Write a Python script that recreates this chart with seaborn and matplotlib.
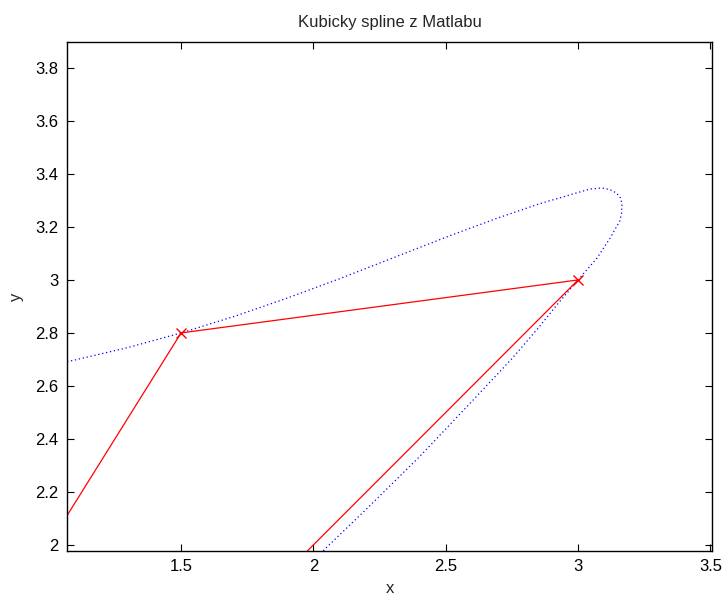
import matplotlib
matplotlib.use("Agg")
import matplotlib.pyplot as plt
import seaborn as sns
import pandas as pd

# Control polygon (red, with x markers)
poly_x = [1.0, 1.5, 3.0, 1.0]
poly_y = [2.0, 2.8, 3.0, 1.0]

# Cubic spline curve (blue dotted)
spl_x = [1.040, 1.069, 1.300, 1.500, 1.700, 1.900, 2.100, 2.300, 2.516, 2.700, 2.856,
         3.000, 3.045, 3.090, 3.120, 3.145, 3.160, 3.166, 3.164, 3.158, 3.121, 3.072,
         3.000, 2.930, 2.850, 2.750, 2.600, 2.400, 2.200, 2.044, 2.020]
spl_y = [2.684, 2.691, 2.745, 2.800, 2.862, 2.931, 3.005, 3.083, 3.167, 3.235, 3.288,
         3.330, 3.343, 3.347, 3.341, 3.328, 3.310, 3.287, 3.250, 3.223, 3.158, 3.083,
         3.000, 2.918, 2.819, 2.703, 2.543, 2.332, 2.135, 1.985, 1.960]

xticks = [1.5, 2, 2.5, 3, 3.5]
xtick_labels = ["1.5", "2", "2.5", "3", "3.5"]
yticks = [2, 2.2, 2.4, 2.6, 2.8, 3, 3.2, 3.4, 3.6, 3.8]
ytick_labels = ["2", "2.2", "2.4", "2.6", "2.8", "3", "3.2", "3.4", "3.6", "3.8"]

sns.set_style("white")
plt.rcParams["font.family"] = ["Liberation Sans", "DejaVu Sans"]

fig = plt.figure(figsize=(7.28, 5.99), dpi=100)
ax = fig.add_axes([67 / 728, 48 / 599, 645 / 728, 509 / 599])

spl_df = pd.DataFrame({"x": spl_x, "y": spl_y})
poly_df = pd.DataFrame({"x": poly_x, "y": poly_y})

sns.lineplot(data=spl_df, x="x", y="y", sort=False, estimator=None, ax=ax,
             color="blue", linewidth=0.9, linestyle=(0, (1, 2.2)))
sns.lineplot(data=poly_df, x="x", y="y", sort=False, estimator=None, ax=ax,
             color="red", linewidth=0.9, marker="x", markersize=7,
             markeredgecolor="red", markeredgewidth=1.0)

ax.set_xlim(1.069, 3.506)
ax.set_ylim(1.977, 3.898)
ax.set_xticks(xticks)
ax.set_xticklabels(xtick_labels)
ax.set_yticks(yticks)
ax.set_yticklabels(ytick_labels)

ax.tick_params(direction="in", length=5, width=0.8, labelsize=12,
               top=True, right=True, bottom=True, left=True, pad=6, colors="black")
for s in ax.spines.values():
    s.set_visible(True)
    s.set_color("black")
    s.set_linewidth(1.0)

ax.set_title("Kubicky spline z Matlabu", fontsize=12, pad=11)
ax.set_xlabel("x", fontsize=12, labelpad=5)
ax.set_ylabel("y", fontsize=12, labelpad=8)

fig.savefig("out.png", dpi=100, facecolor="white")
